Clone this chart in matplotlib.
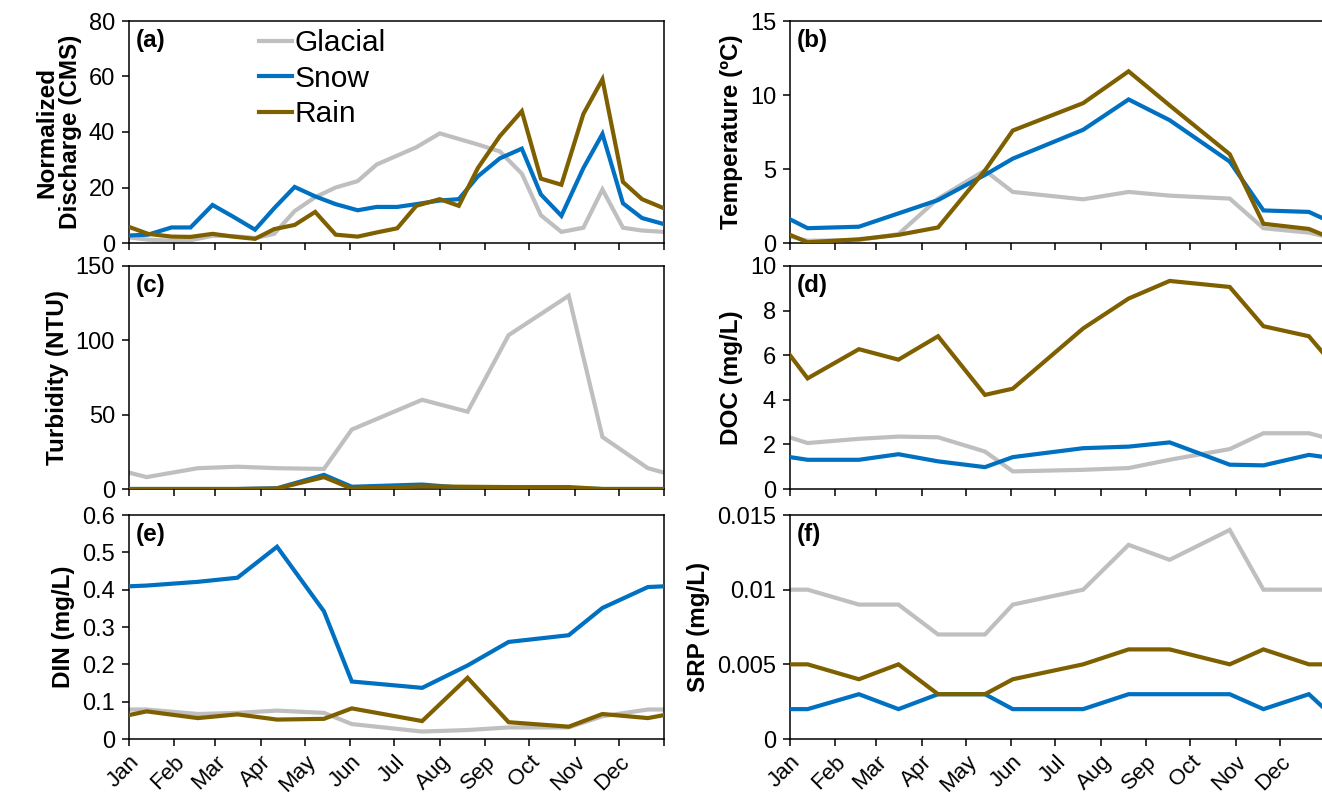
import matplotlib
matplotlib.use("Agg")
import matplotlib.pyplot as plt
from matplotlib.ticker import FuncFormatter

plt.rcParams['font.family'] = ['Liberation Sans', 'DejaVu Sans']

# ---------------- data ----------------
series_names = ["Glacial", "Snow", "Rain"]
colors = {"Glacial": "#BFBFBF", "Snow": "#0070C0", "Rain": "#7F6000"}

month_labels = ["Jan", "Feb", "Mar", "Apr", "May", "Jun", "Jul", "Aug", "Sep", "Oct", "Nov", "Dec"]
month_start_days = [0, 31, 59, 90, 120, 151, 181, 212, 243, 273, 304, 334, 365]

# (a) discharge, roughly bi-weekly sample days (day of year)
days_a = [0, 13, 29, 42, 57, 71, 86, 99, 113, 127, 141, 156, 169, 183, 196, 212, 225,
          238, 253, 268, 281, 295, 310, 323, 337, 350, 365]
discharge_glacial = [2, 1.2, 0.8, 1.0, 2.6, 2.5, 1.8, 3.3, 11.5, 16.5, 20, 22.3, 28.3, 31.5,
                     34.5, 39.5, 37.5, 35.5, 33, 25, 10, 4, 5.5, 19.3, 5.5, 4.5, 4]
discharge_snow = [2.7, 3.0, 5.6, 5.6, 13.7, 9.5, 4.8, 12.5, 20.2, 16.8, 14, 11.8, 13, 13,
                  14, 15.3, 15.8, 24, 30.5, 34, 17.5, 9.8, 27, 39.3, 14.3, 9, 6.8]
discharge_rain = [5.8, 3.3, 2.3, 2.2, 3.3, 2.3, 1.5, 5.0, 6.5, 11.2, 3.0, 2.3, 3.8, 5.3,
                  13.4, 15.8, 13.4, 27, 38.5, 47.5, 23.2, 21, 46.5, 59, 22, 15.8, 12.5]

# (b)-(f) monthly-ish sample days
days_s = [0, 12, 47, 74, 101, 133, 152, 200, 231, 259, 300, 323, 354, 365]

temp_glacial = [0.45, 0.15, 0.2, 0.6, 3.0, 4.9, 3.45, 2.95, 3.45, 3.2, 3.0, 1.0, 0.7, 0.45]
temp_snow = [1.6, 1.0, 1.1, 2.0, 2.9, 4.6, 5.7, 7.65, 9.7, 8.3, 5.5, 2.2, 2.1, 1.6]
temp_rain = [0.55, 0.05, 0.25, 0.55, 1.05, 4.9, 7.6, 9.45, 11.6, 9.3, 6.0, 1.3, 0.95, 0.5]

turb_glacial = [11, 8, 14, 15, 14, 13.5, 40, 60, 52, 103.5, 130, 35, 14, 11]
turb_snow = [0, 0, 0, 0, 0.5, 9.5, 1.5, 3, 0.5, 0.5, 0.5, 0, 0, 0]
turb_rain = [0, 0, 0, 0, 0.3, 8, 0.3, 1.8, 1.5, 1.3, 1.3, 0, 0, 0]

doc_glacial = [2.31, 2.06, 2.25, 2.35, 2.32, 1.68, 0.79, 0.86, 0.94, 1.31, 1.79, 2.5, 2.5, 2.31]
doc_snow = [1.43, 1.31, 1.31, 1.56, 1.24, 0.98, 1.43, 1.83, 1.9, 2.09, 1.09, 1.06, 1.53, 1.43]
doc_rain = [6.0, 4.96, 6.27, 5.8, 6.85, 4.22, 4.5, 7.2, 8.54, 9.33, 9.06, 7.3, 6.85, 6.0]

din_glacial = [0.079, 0.079, 0.067, 0.07, 0.076, 0.07, 0.04, 0.02, 0.024, 0.031, 0.031, 0.061, 0.079, 0.079]
din_snow = [0.409, 0.411, 0.421, 0.432, 0.515, 0.342, 0.154, 0.137, 0.197, 0.26, 0.278, 0.351, 0.407, 0.409]
din_rain = [0.064, 0.074, 0.056, 0.066, 0.052, 0.054, 0.082, 0.048, 0.164, 0.045, 0.033, 0.067, 0.056, 0.064]

srp_glacial = [0.01, 0.01, 0.009, 0.009, 0.007, 0.007, 0.009, 0.01, 0.013, 0.012, 0.014, 0.01, 0.01, 0.01]
srp_snow = [0.002, 0.002, 0.003, 0.002, 0.003, 0.003, 0.002, 0.002, 0.003, 0.003, 0.003, 0.002, 0.003, 0.002]
srp_rain = [0.005, 0.005, 0.004, 0.005, 0.003, 0.003, 0.004, 0.005, 0.006, 0.006, 0.005, 0.006, 0.005, 0.005]

panels = [
    ("(a)", "Normalized\nDischarge (CMS)", days_a, [discharge_glacial, discharge_snow, discharge_rain], [0, 20, 40, 60, 80]),
    ("(b)", "Temperature (ºC)", days_s, [temp_glacial, temp_snow, temp_rain], [0, 5, 10, 15]),
    ("(c)", "Turbidity (NTU)", days_s, [turb_glacial, turb_snow, turb_rain], [0, 50, 100, 150]),
    ("(d)", "DOC (mg/L)", days_s, [doc_glacial, doc_snow, doc_rain], [0, 2, 4, 6, 8, 10]),
    ("(e)", "DIN (mg/L)", days_s, [din_glacial, din_snow, din_rain], [0, 0.1, 0.2, 0.3, 0.4, 0.5, 0.6]),
    ("(f)", "SRP (mg/L)", days_s, [srp_glacial, srp_snow, srp_rain], [0, 0.005, 0.01, 0.015]),
]

# ---------------- layout ----------------
W, H = 1322, 796
fig = plt.figure(figsize=(W / 100, H / 100), dpi=100)

col_left = [129, 790]
col_width = 535
rows = [(21, 243), (266, 489), (515, 739)]

fmt = FuncFormatter(lambda v, p: f"{v:g}")

for i, (tag, ylabel, days, vals, yticks) in enumerate(panels):
    r, c = divmod(i, 2)
    top, bot = rows[r]
    ax = fig.add_axes([col_left[c] / W, 1 - bot / H, col_width / W, (bot - top) / H])
    order = [0, 1, 2] if tag != "(c)" else [0, 2, 1]
    for k in order:
        name = series_names[k]
        ax.plot(days, vals[k], color=colors[name], lw=3.0, label=name,
                solid_joinstyle='miter', zorder=2 + k)
    ax.set_xlim(0, 365)
    ax.set_ylim(yticks[0], yticks[-1])
    ax.set_yticks(yticks)
    ax.yaxis.set_major_formatter(fmt)
    ax.set_xticks(month_start_days)
    if r == 2:
        ax.set_xticklabels(month_labels + [""], rotation=45, ha="right",
                           rotation_mode="anchor", fontsize=16)
    else:
        ax.set_xticklabels([])
    ax.tick_params(axis="both", direction="out", length=5, width=1.1,
                   labelsize=17, color="black")
    ax.tick_params(axis="x", pad=4, labelsize=16)
    ax.tick_params(axis="y", pad=5)
    for s in ax.spines.values():
        s.set_linewidth(1.1)
        s.set_color("black")
    ax.set_ylabel(ylabel, fontsize=17.5, fontweight="bold", labelpad=5, linespacing=1.05)
    ax.text(0.012, 0.965, tag, transform=ax.transAxes, fontsize=17.5,
            fontweight="bold", va="top", ha="left")
    if tag == "(a)":
        ax.legend(loc="upper left", bbox_to_anchor=(0.243, 0.962), frameon=False,
                  fontsize=21.5, handlelength=1.1, handletextpad=0.08,
                  labelspacing=0.25, borderaxespad=0, borderpad=0)

fig.savefig("out.png", dpi=100)
